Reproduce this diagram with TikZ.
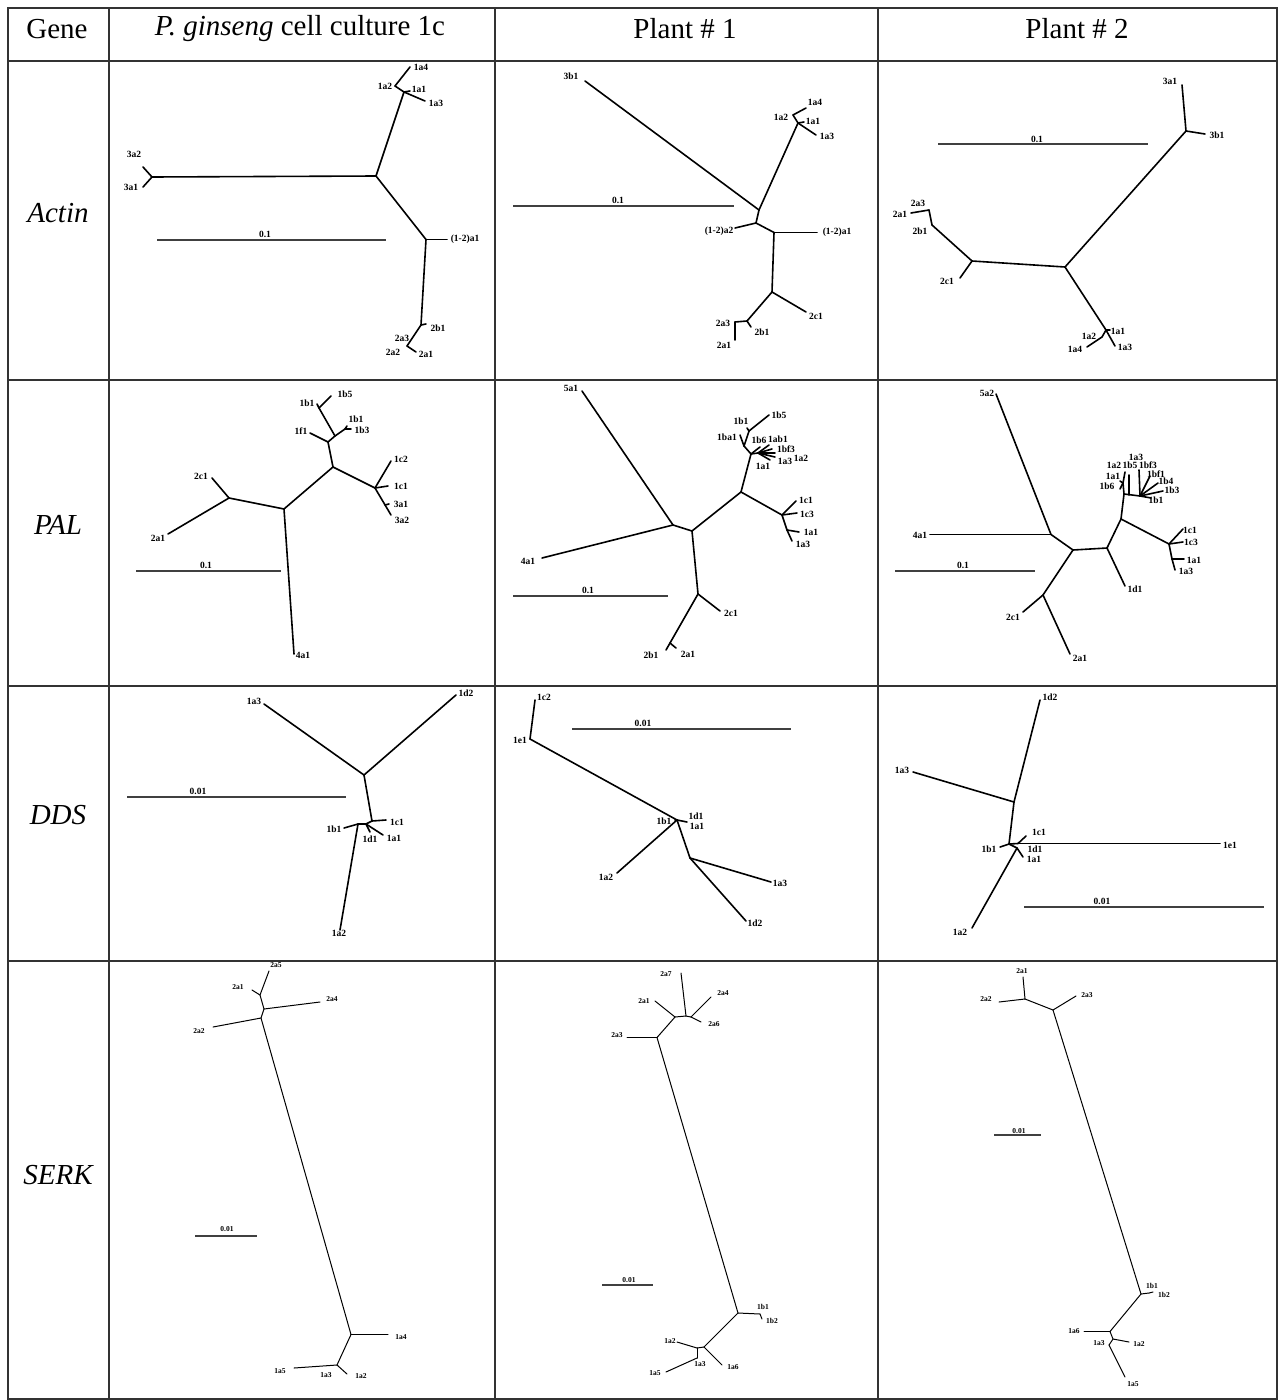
\documentclass[tikz,border=0pt]{standalone}
\usepackage{fontspec}
\setmainfont{Liberation Serif}
\begin{document}
\begin{tikzpicture}[x=1pt,y=-1pt,
  grid/.style={line width=1.8pt,draw=black!80},
  tl/.style={line width=1.6pt,line cap=round},
  sl/.style={line width=1.0pt,line cap=round},
  sbar/.style={line width=2pt,draw=black!75},
  lb/.style={font=\fontsize{9.5}{9.5}\selectfont\bfseries,inner sep=0pt},
  slb/.style={font=\fontsize{7.5}{7.5}\selectfont\bfseries,inner sep=0pt},
  hd/.style={font=\fontsize{29}{32}\selectfont,inner sep=0pt},
  rl/.style={font=\fontsize{29}{32}\selectfont\itshape,inner sep=0pt}]
\useasboundingbox (0,0) rectangle (1280,1400);
\fill[white] (0,0) rectangle (1280,1400);
% ---------------- table grid
\draw[grid] (8,8) rectangle (1277,1399);
\foreach \y in {61,380,686,961} \draw[grid] (8,\y) -- (1277,\y);
\foreach \x in {109,495,878} \draw[grid] (\x,8) -- (\x,1399);
% ---------------- headers
\node[hd] (hGene) at (57,29) {Gene};
\node[hd] (hPg) at (300,29) {\textit{P. ginseng} cell culture 1c};
\node[hd] (hP1) at (685,29) {Plant \# 1};
\node[hd] (hP2) at (1077,29) {Plant \# 2};
\node[rl] (rActin) at (58,213) {Actin};
\node[rl] (rPAL) at (58,525) {PAL};
\node[rl] (rDDS) at (58,815) {DDS};
\node[rl] (rSERK) at (58,1175) {SERK};

% ================= Actin / P. ginseng
\coordinate (A1c) at (376,176);
\coordinate (A1l) at (152,177);
\coordinate (A1t3a2) at (143,167);
\coordinate (A1t3a1) at (143,187);
\coordinate (A1u) at (404,92);
\coordinate (A1n) at (395,86);
\coordinate (A1t1a4) at (410,67);
\coordinate (A1t1a1) at (410,91);
\coordinate (A1t1a3) at (425,101);
\coordinate (A1r) at (426,239.5);
\coordinate (A1t12a1) at (447,239.5);
\coordinate (A1d) at (421,325);
\coordinate (A1t2b1) at (426,324);
\coordinate (A1e) at (407,346);
\coordinate (A1t2a1) at (416,352);
\foreach \a/\b in {A1c/A1l,A1l/A1t3a2,A1l/A1t3a1,A1c/A1u,A1u/A1n,A1n/A1t1a4,A1u/A1t1a1,A1u/A1t1a3,A1c/A1r,A1r/A1t12a1,A1r/A1d,A1d/A1t2b1,A1d/A1e,A1e/A1t2a1}
  \draw[tl] (\a) -- (\b);
\node[lb] (A1L3a2) at (134,154) {3a2};
\node[lb] (A1L3a1) at (131,187) {3a1};
\node[lb] (A1L1a4) at (421,67) {1a4};
\node[lb] (A1L1a2) at (385,86) {1a2};
\node[lb] (A1L1a1) at (419,89) {1a1};
\node[lb] (A1L1a3) at (436,103) {1a3};
\node[lb] (A1L12a1) at (465,239) {(1-2)a1};
\node[lb] (A1L2b1) at (438,328) {2b1};
\node[lb] (A1L2a3) at (402,338) {2a3};
\node[lb] (A1L2a2) at (393,352) {2a2};
\node[lb] (A1L2a1) at (426,354) {2a1};
\coordinate (A1s0) at (157,239.5); \coordinate (A1s1) at (386,239.5);
\draw[sbar] (A1s0) -- (A1s1);
\node[lb] (A1S) at (265,234) {0.1};

% ================= Actin / Plant 1
\coordinate (A2t3b1) at (585,81);
\coordinate (A2a) at (759,210);
\coordinate (A2u) at (798,123);
\coordinate (A2n) at (793,115);
\coordinate (A2t1a4) at (806,108);
\coordinate (A2t1a1) at (804,122);
\coordinate (A2t1a3) at (816,135);
\coordinate (A2b) at (756,223);
\coordinate (A2t12a2) at (735,228);
\coordinate (A2c) at (774,232.5);
\coordinate (A2t12a1) at (817,232.5);
\coordinate (A2d) at (772,292);
\coordinate (A2t2c1) at (806,312);
\coordinate (A2e) at (747,321);
\coordinate (A2t2b1) at (751,327);
\coordinate (A2f) at (735,322);
\coordinate (A2t2a1) at (735,340);
\foreach \a/\b in {A2t3b1/A2a,A2a/A2u,A2u/A2n,A2n/A2t1a4,A2u/A2t1a1,A2u/A2t1a3,A2a/A2b,A2b/A2t12a2,A2b/A2c,A2c/A2t12a1,A2c/A2d,A2d/A2t2c1,A2d/A2e,A2e/A2t2b1,A2e/A2f,A2f/A2t2a1}
  \draw[tl] (\a) -- (\b);
\node[lb] (A2L3b1) at (571,76) {3b1};
\node[lb] (A2L1a4) at (815,102) {1a4};
\node[lb] (A2L1a2) at (781,117) {1a2};
\node[lb] (A2L1a1) at (813,121) {1a1};
\node[lb] (A2L1a3) at (827,136) {1a3};
\node[lb] (A2L12a2) at (719,231) {(1-2)a2};
\node[lb] (A2L12a1) at (837,232) {(1-2)a1};
\node[lb] (A2L2c1) at (816,316) {2c1};
\node[lb] (A2L2b1) at (762,332) {2b1};
\node[lb] (A2L2a3) at (723,323) {2a3};
\node[lb] (A2L2a1) at (724,345) {2a1};
\coordinate (A2s0) at (513,205.5); \coordinate (A2s1) at (734,205.5);
\draw[sbar] (A2s0) -- (A2s1);
\node[lb] (A2S) at (618,200) {0.1};

% ================= Actin / Plant 2
\coordinate (A3c) at (1065,267);
\coordinate (A3n) at (1186,131);
\coordinate (A3t3a1) at (1182,85);
\coordinate (A3t3b1) at (1205,134);
\coordinate (A3l) at (972,261);
\coordinate (A3t2c1) at (960,278);
\coordinate (A3m) at (932,225);
\coordinate (A3k) at (929,210);
\coordinate (A3t2a1) at (911,213);
\coordinate (A3d) at (1106,330);
\coordinate (A3t1a1) at (1110,330);
\coordinate (A3t1a3) at (1115,346);
\coordinate (A3g) at (1102,337);
\coordinate (A3t1a4) at (1087,347);
\foreach \a/\b in {A3c/A3n,A3n/A3t3a1,A3n/A3t3b1,A3c/A3l,A3l/A3t2c1,A3l/A3m,A3m/A3k,A3k/A3t2a1,A3c/A3d,A3d/A3t1a1,A3d/A3t1a3,A3d/A3g,A3g/A3t1a4}
  \draw[tl] (\a) -- (\b);
\node[lb] (A3L3a1) at (1170,81) {3a1};
\node[lb] (A3L3b1) at (1217,135) {3b1};
\node[lb] (A3L2c1) at (947,281) {2c1};
\node[lb] (A3L2b1) at (920,231) {2b1};
\node[lb] (A3L2a3) at (918,203) {2a3};
\node[lb] (A3L2a1) at (900,214) {2a1};
\node[lb] (A3L1a1) at (1118,331) {1a1};
\node[lb] (A3L1a3) at (1125,347) {1a3};
\node[lb] (A3L1a2) at (1089,336) {1a2};
\node[lb] (A3L1a4) at (1075,349) {1a4};
\coordinate (A3s0) at (938,143.5); \coordinate (A3s1) at (1148,143.5);
\draw[sbar] (A3s0) -- (A3s1);
\node[lb] (A3S) at (1037,139) {0.1};

% ================= PAL / P. ginseng
\coordinate (P1a) at (284,509);
\coordinate (P1t4a1) at (294,654);
\coordinate (P1b) at (229,498);
\coordinate (P1t2c1) at (212,478);
\coordinate (P1t2a1) at (168,534);
\coordinate (P1c) at (333,467);
\coordinate (P1d) at (375,488);
\coordinate (P1t1c2) at (391,461);
\coordinate (P1t1c1) at (388,486);
\coordinate (P1e) at (385,505);
\coordinate (P1t3a1) at (389,504);
\coordinate (P1t3a2) at (391,515);
\coordinate (P1f) at (328,442);
\coordinate (P1t1f1) at (310,433);
\coordinate (P1g) at (335,436);
\coordinate (P1h) at (319,408);
\coordinate (P1t1b1a) at (317,404);
\coordinate (P1t1b5) at (331,396);
\coordinate (P1i) at (345,429);
\coordinate (P1t1b1) at (347,426);
\coordinate (P1t1b3) at (351,429);
\foreach \a/\b in {P1a/P1t4a1,P1a/P1b,P1b/P1t2c1,P1b/P1t2a1,P1a/P1c,P1c/P1d,P1d/P1t1c2,P1d/P1t1c1,P1d/P1t3a2,P1e/P1t3a1,P1c/P1f,P1f/P1t1f1,P1f/P1g,P1g/P1h,P1h/P1t1b1a,P1h/P1t1b5,P1g/P1i,P1i/P1t1b1,P1i/P1t1b3}
  \draw[tl] (\a) -- (\b);
\node[lb] (P1L4a1) at (303,655) {4a1};
\node[lb] (P1L2c1) at (201,476) {2c1};
\node[lb] (P1L2a1) at (158,538) {2a1};
\node[lb] (P1L1c2) at (401,459) {1c2};
\node[lb] (P1L1c1) at (401,486) {1c1};
\node[lb] (P1L3a1) at (401,504) {3a1};
\node[lb] (P1L3a2) at (402,520) {3a2};
\node[lb] (P1L1f1) at (301,431) {1f1};
\node[lb] (P1L1b1a) at (307,403) {1b1};
\node[lb] (P1L1b5) at (345,394) {1b5};
\node[lb] (P1L1b1) at (356,419) {1b1};
\node[lb] (P1L1b3) at (362,430) {1b3};
\coordinate (P1s0) at (136,570.5); \coordinate (P1s1) at (281,570.5);
\draw[sbar] (P1s0) -- (P1s1);
\node[lb] (P1S) at (206,565) {0.1};

% ================= PAL / Plant 1
\coordinate (P2a) at (673,525);
\coordinate (P2t5a1) at (582,391);
\coordinate (P2t4a1) at (542,558);
\coordinate (P2b) at (692,531);
\coordinate (P2c) at (698,594);
\coordinate (P2t2c1) at (720,611);
\coordinate (P2d) at (670,643);
\coordinate (P2t2b1) at (666,650);
\coordinate (P2t2a1) at (676,648);
\coordinate (P2e) at (741,492);
\coordinate (P2f) at (782,515);
\coordinate (P2t1c1) at (796,501);
\coordinate (P2t1c3) at (797,513);
\coordinate (P2g) at (787,530);
\coordinate (P2t1a1) at (799,532);
\coordinate (P2t1a3) at (792,541);
\coordinate (P2h) at (751,454);
\coordinate (P2i) at (744,446);
\coordinate (P2t1ba1) at (740,435);
\coordinate (P2j) at (749,431);
\coordinate (P2t1b1) at (747,428);
\coordinate (P2t1b5) at (769,415);
\coordinate (P2k) at (758,453);
\coordinate (P2f1) at (769,445);
\coordinate (P2f2) at (772,449);
\coordinate (P2f3) at (775,453);
\coordinate (P2f4) at (775,457);
\coordinate (P2f5) at (770,460);
\coordinate (P2f6) at (760,447);
\foreach \a/\b in {P2a/P2t5a1,P2a/P2t4a1,P2a/P2b,P2b/P2c,P2c/P2t2c1,P2c/P2d,P2d/P2t2b1,P2d/P2t2a1,P2b/P2e,P2e/P2f,P2f/P2t1c1,P2f/P2t1c3,P2f/P2g,P2g/P2t1a1,P2g/P2t1a3,P2e/P2h,P2h/P2i,P2i/P2t1ba1,P2i/P2j,P2j/P2t1b1,P2j/P2t1b5,P2h/P2k,P2k/P2f1,P2k/P2f2,P2k/P2f3,P2k/P2f4,P2k/P2f5,P2h/P2f6}
  \draw[tl] (\a) -- (\b);
\node[lb] (P2L5a1) at (571,388) {5a1};
\node[lb] (P2L4a1) at (528,561) {4a1};
\node[lb] (P2L2c1) at (731,613) {2c1};
\node[lb] (P2L2b1) at (651,655) {2b1};
\node[lb] (P2L2a1) at (688,654) {2a1};
\node[lb] (P2L1c1) at (806,500) {1c1};
\node[lb] (P2L1c3) at (807,514) {1c3};
\node[lb] (P2L1a1) at (811,532) {1a1};
\node[lb] (P2L1a3) at (803,544) {1a3};
\node[lb] (P2L1ba1) at (727,437) {1ba1};
\node[lb] (P2L1b1) at (741,421) {1b1};
\node[lb] (P2L1b5) at (779,415) {1b5};
\node[lb] (P2L1b6) at (759,440) {1b6};
\node[lb] (P2L1ab1) at (778,439) {1ab1};
\node[lb] (P2L1bf3) at (786,449) {1bf3};
\node[lb] (P2L1a2) at (801,458) {1a2};
\node[lb] (P2L1a3b) at (785,461) {1a3};
\node[lb] (P2L1a1b) at (763,466) {1a1};
\coordinate (P2s0) at (513,595.5); \coordinate (P2s1) at (668,595.5);
\draw[sbar] (P2s0) -- (P2s1);
\node[lb] (P2S) at (588,590) {0.1};

% ================= PAL / Plant 2
\coordinate (P3a) at (1051,534.5);
\coordinate (P3t5a2) at (996,394);
\coordinate (P3t4a1) at (930,534.5);
\coordinate (P3b) at (1073,550);
\coordinate (P3c) at (1043,595);
\coordinate (P3t2c1) at (1023,612);
\coordinate (P3t2a1) at (1070,654);
\coordinate (P3d) at (1107,548);
\coordinate (P3t1d1) at (1125,586);
\coordinate (P3e) at (1121,519);
\coordinate (P3f) at (1169,544);
\coordinate (P3t1c1) at (1183,529);
\coordinate (P3t1c3) at (1183,542);
\coordinate (P3g) at (1172,559);
\coordinate (P3t1a1) at (1184,559);
\coordinate (P3t1a3) at (1175,570);
\coordinate (P3h) at (1124,494);
\coordinate (P3l) at (1123,483);
\coordinate (P3t1a2) at (1125,472);
\coordinate (P3t1a1b) at (1120,481);
\coordinate (P3t1b6) at (1120,489);
\coordinate (P3m) at (1129,495);
\coordinate (P3t1b5) at (1129,475);
\coordinate (P3i) at (1140,496);
\coordinate (P3q1) at (1139,470);
\coordinate (P3q2) at (1150,476);
\coordinate (P3q3) at (1158,483);
\coordinate (P3q4) at (1163,491);
\coordinate (P3q5) at (1151,498);
\foreach \a/\b in {P3a/P3t5a2,P3a/P3t4a1,P3a/P3b,P3b/P3c,P3c/P3t2c1,P3c/P3t2a1,P3b/P3d,P3d/P3t1d1,P3d/P3e,P3e/P3f,P3f/P3t1c1,P3f/P3t1c3,P3f/P3g,P3g/P3t1a1,P3g/P3t1a3,P3e/P3h,P3h/P3l,P3l/P3t1a2,P3l/P3t1a1b,P3l/P3t1b6,P3h/P3i,P3m/P3t1b5,P3i/P3q1,P3i/P3q2,P3i/P3q3,P3i/P3q4,P3i/P3q5}
  \draw[tl] (\a) -- (\b);
\node[lb] (P3L5a2) at (987,393) {5a2};
\node[lb] (P3L4a1) at (920,535) {4a1};
\node[lb] (P3L2c1) at (1013,617) {2c1};
\node[lb] (P3L2a1) at (1080,658) {2a1};
\node[lb] (P3L1d1) at (1135,589) {1d1};
\node[lb] (P3L1c1) at (1190,530) {1c1};
\node[lb] (P3L1c3) at (1191,542) {1c3};
\node[lb] (P3L1a1) at (1194,560) {1a1};
\node[lb] (P3L1a3) at (1186,571) {1a3};
\node[lb] (P3L1a2) at (1114,465) {1a2};
\node[lb] (P3L1a1b) at (1113,476) {1a1};
\node[lb] (P3L1b6) at (1107,486) {1b6};
\node[lb] (P3L1b5) at (1130,465) {1b5};
\node[lb] (P3L1a3b) at (1136,457) {1a3};
\node[lb] (P3L1bf3) at (1148,465) {1bf3};
\node[lb] (P3L1bf1) at (1156,474) {1bf1};
\node[lb] (P3L1b4) at (1166,481) {1b4};
\node[lb] (P3L1b3) at (1172,490) {1b3};
\node[lb] (P3L1b1) at (1156,500) {1b1};
\coordinate (P3s0) at (895,570.5); \coordinate (P3s1) at (1035,570.5);
\draw[sbar] (P3s0) -- (P3s1);
\node[lb] (P3S) at (963,565) {0.1};

% ================= DDS / P. ginseng
\coordinate (D1a) at (364,775);
\coordinate (D1t1a3) at (264,704);
\coordinate (D1t1d2) at (456,695);
\coordinate (D1b) at (372,821);
\coordinate (D1t1c1) at (386,820);
\coordinate (D1c) at (366,824);
\coordinate (D1t1d1) at (370,832);
\coordinate (D1t1a1) at (383,835);
\coordinate (D1d) at (358,824);
\coordinate (D1t1b1) at (344,828);
\coordinate (D1t1a2) at (340,930);
\foreach \a/\b in {D1a/D1t1a3,D1a/D1t1d2,D1a/D1b,D1b/D1t1c1,D1b/D1c,D1c/D1t1d1,D1c/D1t1a1,D1c/D1d,D1d/D1t1b1,D1d/D1t1a2}
  \draw[tl] (\a) -- (\b);
\node[lb] (D1L1a3) at (254,701) {1a3};
\node[lb] (D1L1d2) at (466,693) {1d2};
\node[lb] (D1L1c1) at (397,822) {1c1};
\node[lb] (D1L1d1) at (370,839) {1d1};
\node[lb] (D1L1a1) at (394,838) {1a1};
\node[lb] (D1L1b1) at (334,829) {1b1};
\node[lb] (D1L1a2) at (339,933) {1a2};
\coordinate (D1s0) at (127,796.5); \coordinate (D1s1) at (346,796.5);
\draw[sbar] (D1s0) -- (D1s1);
\node[lb] (D1S) at (198,791) {0.01};

% ================= DDS / Plant 1
\coordinate (D2t1c2) at (535,700);
\coordinate (D2a) at (530,739);
\coordinate (D2b) at (677,820);
\coordinate (D2t1a1) at (687,822);
\coordinate (D2t1b1) at (675,820);
\coordinate (D2t1a2) at (617,873);
\coordinate (D2c) at (690,858);
\coordinate (D2t1a3) at (771,882);
\coordinate (D2t1d2) at (746,921);
\foreach \a/\b in {D2t1c2/D2a,D2a/D2b,D2b/D2t1a1,D2b/D2t1b1,D2b/D2t1a2,D2b/D2c,D2c/D2t1a3,D2c/D2t1d2}
  \draw[tl] (\a) -- (\b);
\node[lb] (D2L1c2) at (544,697) {1c2};
\node[lb] (D2L1e1) at (520,740) {1e1};
\node[lb] (D2L1b1) at (664,821) {1b1};
\node[lb] (D2L1d1) at (696,816) {1d1};
\node[lb] (D2L1a1) at (697,826) {1a1};
\node[lb] (D2L1a2) at (606,877) {1a2};
\node[lb] (D2L1a3) at (780,883) {1a3};
\node[lb] (D2L1d2) at (755,923) {1d2};
\coordinate (D2s0) at (572,728.5); \coordinate (D2s1) at (791,728.5);
\draw[sbar] (D2s0) -- (D2s1);
\node[lb] (D2S) at (643,723) {0.01};

% ================= DDS / Plant 2
\coordinate (D3t1d2) at (1040,700);
\coordinate (D3a) at (1014,802);
\coordinate (D3t1a3) at (913,772);
\coordinate (D3b) at (1009,844);
\coordinate (D3t1b1) at (1000,847);
\coordinate (D3c) at (1018,843.5);
\coordinate (D3t1c1) at (1026,836);
\coordinate (D3t1e1) at (1220,843.5);
\coordinate (D3d) at (1017,848);
\coordinate (D3t1a1) at (1023,857);
\coordinate (D3t1a2) at (972,928);
\foreach \a/\b in {D3t1d2/D3a,D3a/D3t1a3,D3a/D3b,D3b/D3t1b1,D3b/D3c,D3c/D3t1c1,D3c/D3t1e1,D3b/D3d,D3d/D3t1a1,D3d/D3t1a2}
  \draw[tl] (\a) -- (\b);
\node[lb] (D3L1d2) at (1050,697) {1d2};
\node[lb] (D3L1a3) at (902,770) {1a3};
\node[lb] (D3L1b1) at (989,849) {1b1};
\node[lb] (D3L1c1) at (1039,832) {1c1};
\node[lb] (D3L1e1) at (1230,845) {1e1};
\node[lb] (D3L1d1) at (1035,849) {1d1};
\node[lb] (D3L1a1) at (1034,859) {1a1};
\node[lb] (D3L1a2) at (960,932) {1a2};
\coordinate (D3s0) at (1024,906.5); \coordinate (D3s1) at (1264,906.5);
\draw[sbar] (D3s0) -- (D3s1);
\node[lb] (D3S) at (1102,901) {0.01};

% ================= SERK / P. ginseng
\coordinate (S1a) at (261,1018);
\coordinate (S1t2a2) at (213,1027);
\coordinate (S1b) at (264,1009);
\coordinate (S1t2a4) at (320,1002);
\coordinate (S1c) at (260,995);
\coordinate (S1t2a1) at (252,990);
\coordinate (S1t2a5) at (269,971);
\coordinate (S1d) at (351,1334.5);
\coordinate (S1t1a4) at (388,1334.5);
\coordinate (S1e) at (337,1365);
\coordinate (S1t1a5) at (294,1368);
\coordinate (S1t1a2) at (347,1374);
\foreach \a/\b in {S1a/S1d,S1a/S1t2a2,S1a/S1b,S1b/S1t2a4,S1b/S1c,S1c/S1t2a1,S1c/S1t2a5,S1d/S1t1a4,S1d/S1e,S1e/S1t1a5,S1e/S1t1a2}
  \draw[sl] (\a) -- (\b);
\node[slb] (S1L2a5) at (276,965) {2a5};
\node[slb] (S1L2a1) at (238,987) {2a1};
\node[slb] (S1L2a4) at (332,999) {2a4};
\node[slb] (S1L2a2) at (199,1031) {2a2};
\node[slb] (S1L1a4) at (401,1337) {1a4};
\node[slb] (S1L1a5) at (280,1371) {1a5};
\node[slb] (S1L1a3) at (326,1375) {1a3};
\node[slb] (S1L1a2) at (361,1376) {1a2};
\coordinate (S1s0) at (195,1235.5); \coordinate (S1s1) at (257,1235.5);
\draw[sbar] (S1s0) -- (S1s1);
\node[slb] (S1S) at (227,1229) {0.01};

% ================= SERK / Plant 1
\coordinate (S2a) at (657,1037.5);
\coordinate (S2t2a3) at (627,1037.5);
\coordinate (S2b) at (675,1017);
\coordinate (S2t2a1) at (655,1001);
\coordinate (S2c) at (686,1016);
\coordinate (S2t2a7) at (681,973);
\coordinate (S2d) at (691,1017);
\coordinate (S2t2a4) at (711,997);
\coordinate (S2t2a6) at (701,1022);
\coordinate (S2e) at (738,1313);
\coordinate (S2t1b1) at (760,1314);
\coordinate (S2t1b2) at (762,1319);
\coordinate (S2f) at (704,1347);
\coordinate (S2t1a6) at (722,1365);
\coordinate (S2g) at (697,1348);
\coordinate (S2t1a2) at (677,1342);
\coordinate (S2h) at (697,1358);
\coordinate (S2t1a5) at (666,1372);
\foreach \a/\b in {S2a/S2e,S2a/S2t2a3,S2a/S2b,S2b/S2t2a1,S2b/S2c,S2c/S2t2a7,S2c/S2d,S2d/S2t2a4,S2d/S2t2a6,S2e/S2t1b1,S2t1b1/S2t1b2,S2e/S2f,S2f/S2t1a6,S2f/S2g,S2g/S2t1a2,S2g/S2h,S2h/S2t1a5}
  \draw[sl] (\a) -- (\b);
\node[slb] (S2L2a7) at (666,974) {2a7};
\node[slb] (S2L2a1) at (644,1001) {2a1};
\node[slb] (S2L2a4) at (723,993) {2a4};
\node[slb] (S2L2a6) at (714,1024) {2a6};
\node[slb] (S2L2a3) at (617,1035) {2a3};
\node[slb] (S2L1b1) at (763,1307) {1b1};
\node[slb] (S2L1b2) at (772,1321) {1b2};
\node[slb] (S2L1a2) at (670,1341) {1a2};
\node[slb] (S2L1a6) at (733,1367) {1a6};
\node[slb] (S2L1a3) at (700,1364) {1a3};
\node[slb] (S2L1a5) at (655,1373) {1a5};
\coordinate (S2s0) at (602,1284.5); \coordinate (S2s1) at (653,1284.5);
\draw[sbar] (S2s0) -- (S2s1);
\node[slb] (S2S) at (629,1280) {0.01};

% ================= SERK / Plant 2
\coordinate (S3a) at (1025,999);
\coordinate (S3t2a1) at (1023,977);
\coordinate (S3t2a2) at (999,1002);
\coordinate (S3b) at (1053,1010);
\coordinate (S3t2a3) at (1076,996);
\coordinate (S3c) at (1141,1294);
\coordinate (S3t1b1) at (1149,1293);
\coordinate (S3t1b2) at (1153,1292);
\coordinate (S3d) at (1110,1331.5);
\coordinate (S3t1a6) at (1084,1331.5);
\coordinate (S3e) at (1113,1339);
\coordinate (S3t1a2) at (1129,1342);
\coordinate (S3f) at (1109,1345);
\coordinate (S3t1a5) at (1125,1377);
\foreach \a/\b in {S3a/S3t2a1,S3a/S3t2a2,S3a/S3b,S3b/S3t2a3,S3b/S3c,S3c/S3t1b1,S3t1b1/S3t1b2,S3c/S3d,S3d/S3t1a6,S3d/S3e,S3e/S3t1a2,S3e/S3f,S3f/S3t1a5}
  \draw[sl] (\a) -- (\b);
\node[slb] (S3L2a1) at (1022,971) {2a1};
\node[slb] (S3L2a2) at (986,999) {2a2};
\node[slb] (S3L2a3) at (1087,995) {2a3};
\node[slb] (S3L1b1) at (1152,1286) {1b1};
\node[slb] (S3L1b2) at (1164,1295) {1b2};
\node[slb] (S3L1a6) at (1074,1331) {1a6};
\node[slb] (S3L1a3) at (1099,1343) {1a3};
\node[slb] (S3L1a2) at (1139,1344) {1a2};
\node[slb] (S3L1a5) at (1133,1384) {1a5};
\coordinate (S3s0) at (994,1134.5); \coordinate (S3s1) at (1041,1134.5);
\draw[sbar] (S3s0) -- (S3s1);
\node[slb] (S3S) at (1019,1131) {0.01};
\end{tikzpicture}
\end{document}
